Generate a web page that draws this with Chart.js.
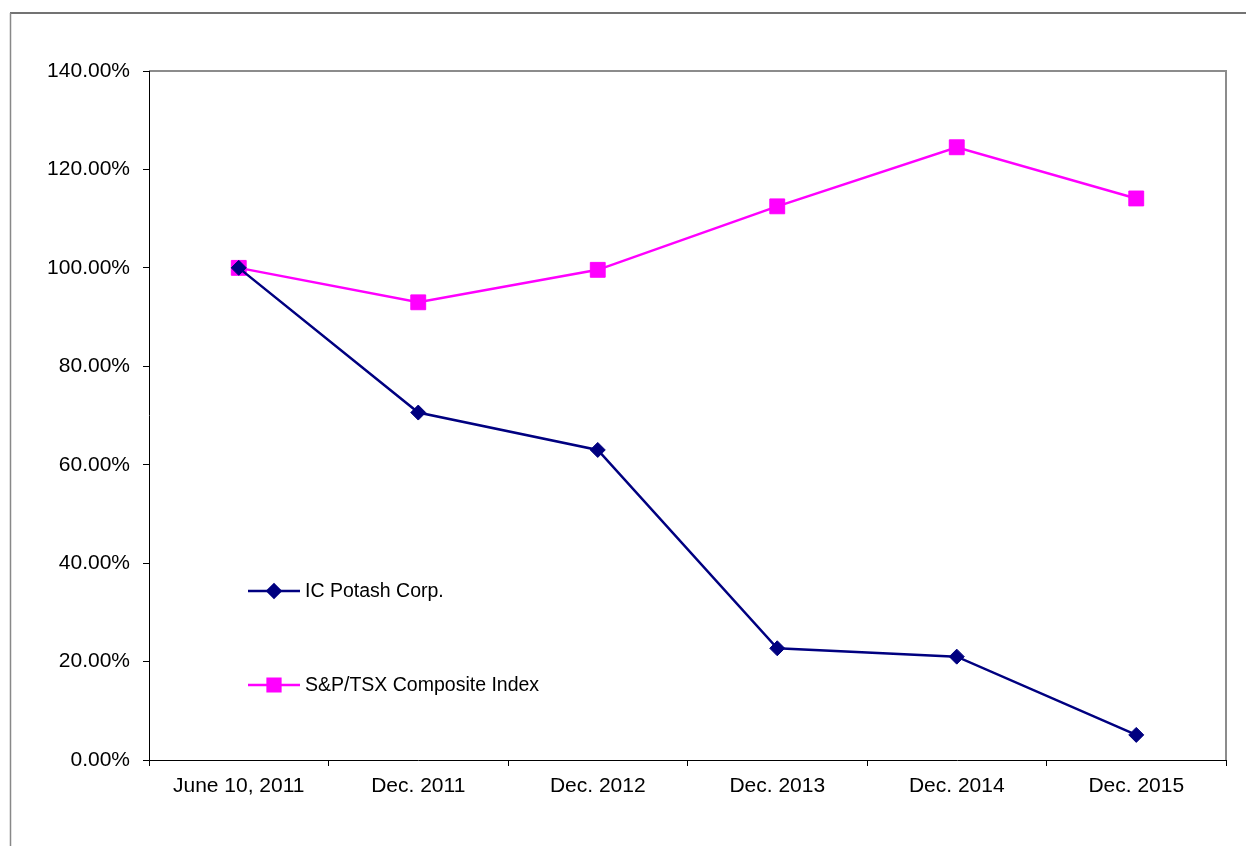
<!DOCTYPE html>
<html>
<head>
<meta charset="utf-8">
<script src="https://cdn.jsdelivr.net/npm/chart.js@4.4.1/dist/chart.umd.min.js"></script>
<style>
html,body{margin:0;padding:0;background:#fff;}
#wrap{width:1246px;height:846px;position:relative;}
</style>
</head>
<body>
<div id="wrap"><canvas id="c" width="1246" height="846"></canvas></div>
<script>
const categories = ["June 10, 2011", "Dec. 2011", "Dec. 2012", "Dec. 2013", "Dec. 2014", "Dec. 2015"];
const icPotash = [100.0, 70.6, 63.0, 22.7, 21.0, 5.1];
const spTsx = [100.0, 93.0, 99.6, 112.5, 124.5, 114.1];
const seriesNames = ["IC Potash Corp.", "S&P/TSX Composite Index"];
const yTicks = [0, 20, 40, 60, 80, 100, 120, 140];

const FONT = "'Liberation Sans', Arial, sans-serif";

const framePlugin = {
  id: 'frame',
  beforeDraw(chart) {
    const ctx = chart.ctx;
    ctx.save();
    ctx.fillStyle = '#fff';
    ctx.fillRect(0, 0, chart.width, chart.height);
    ctx.lineWidth = 1.5;
    ctx.strokeStyle = '#444';
    ctx.beginPath();
    ctx.moveTo(10, 13);
    ctx.lineTo(chart.width, 13);
    ctx.stroke();
    ctx.strokeStyle = '#888';
    ctx.beginPath();
    ctx.moveTo(10.5, 13);
    ctx.lineTo(10.5, chart.height);
    ctx.stroke();
    ctx.restore();
  },
  afterDraw(chart) {
    const ctx = chart.ctx;
    const a = chart.chartArea;
    ctx.save();
    ctx.strokeStyle = '#8c8c8c';
    ctx.lineWidth = 2;
    ctx.beginPath();
    ctx.moveTo(a.left, a.top);
    ctx.lineTo(a.right, a.top);
    ctx.lineTo(a.right, a.bottom);
    ctx.stroke();
    ctx.strokeStyle = '#000';
    ctx.lineWidth = 1;
    ctx.beginPath();
    ctx.moveTo(a.left + 0.5, a.top);
    ctx.lineTo(a.left + 0.5, a.bottom);
    ctx.moveTo(a.left, a.bottom + 0.5);
    ctx.lineTo(a.right + 1, a.bottom + 0.5);
    ctx.stroke();
    const entries = [
      {ds: chart.data.datasets[0], y: 591, r: 6.5},
      {ds: chart.data.datasets[1], y: 685, r: 9}
    ];
    entries.forEach(e => {
      ctx.strokeStyle = e.ds.borderColor;
      ctx.lineWidth = 2.5;
      ctx.beginPath();
      ctx.moveTo(248, e.y);
      ctx.lineTo(300, e.y);
      ctx.stroke();
      Chart.helpers.drawPoint(ctx, {
        pointStyle: e.ds.pointStyle,
        radius: e.r,
        borderWidth: 1,
        rotation: 0
      }, 274, e.y);
      ctx.fillStyle = e.ds.pointBackgroundColor;
      ctx.strokeStyle = e.ds.pointBorderColor;
      ctx.lineWidth = 1;
      ctx.fill();
      ctx.stroke();
      ctx.fillStyle = '#000';
      ctx.font = '19.5px ' + FONT;
      ctx.textBaseline = 'middle';
      ctx.textAlign = 'left';
      ctx.fillText(e.ds.label, 305, e.y + 1);
    });
    ctx.restore();
  }
};

new Chart(document.getElementById('c'), {
  type: 'line',
  data: {
    labels: categories,
    datasets: [
      {
        label: seriesNames[0],
        data: icPotash,
        borderColor: '#000080',
        backgroundColor: '#000080',
        pointBackgroundColor: '#000080',
        pointBorderColor: '#000080',
        pointStyle: 'rectRot',
        pointRadius: 7.5,
        pointBorderWidth: 1,
        borderWidth: 2.5,
        tension: 0
      },
      {
        label: seriesNames[1],
        data: spTsx,
        borderColor: '#ff00ff',
        backgroundColor: '#ff00ff',
        pointBackgroundColor: '#ff00ff',
        pointBorderColor: '#ff00ff',
        pointStyle: 'rect',
        pointRadius: 10.5,
        pointBorderWidth: 1,
        borderWidth: 2.5,
        tension: 0
      }
    ]
  },
  options: {
    responsive: false,
    animation: false,
    devicePixelRatio: 1,
    layout: { padding: { left: 0, top: 71, right: 20, bottom: 0 } },
    plugins: { legend: { display: false }, tooltip: { enabled: false } },
    scales: {
      x: {
        offset: true,
        border: { display: false },
        grid: { display: true, offset: true, drawOnChartArea: false, drawTicks: true, tickLength: 6, color: '#000', lineWidth: 1 },
        ticks: { color: '#000', font: { family: FONT, size: 21 }, padding: 8, maxRotation: 0, autoSkip: false },
        afterFit(scale) { scale.height = 86; }
      },
      y: {
        min: 0,
        max: 140,
        border: { display: false },
        grid: { display: true, drawOnChartArea: false, drawTicks: true, tickLength: 6, color: '#000', lineWidth: 1 },
        afterBuildTicks(scale) { scale.ticks = yTicks.map(v => ({ value: v })); },
        ticks: {
          color: '#000',
          font: { family: FONT, size: 21 },
          padding: 13,
          callback: v => v.toFixed(2) + '%'
        },
        afterFit(scale) { scale.width = 149; }
      }
    }
  },
  plugins: [framePlugin]
});
</script>
</body>
</html>
